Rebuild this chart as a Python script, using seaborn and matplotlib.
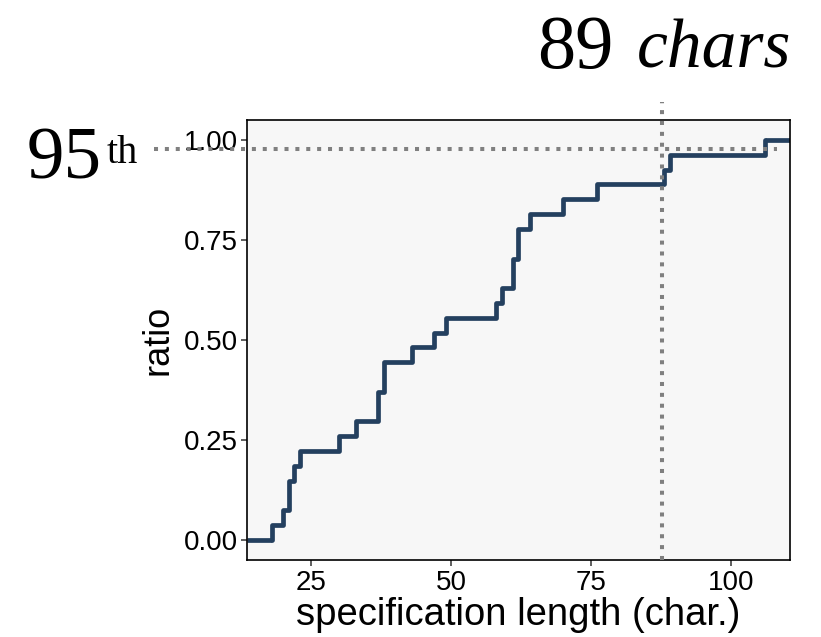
import matplotlib
matplotlib.use("Agg")
import matplotlib.pyplot as plt
import seaborn as sns

# specification lengths (characters)
spec_lengths = [18, 20, 21, 21, 22, 23, 30, 33, 37, 37, 38, 38, 43, 47, 49,
                58, 59, 61, 61, 62, 62, 64, 70, 76, 88, 89, 106]
x_ticks = [25, 50, 75, 100]
y_ticks = [0.0, 0.25, 0.5, 0.75, 1.0]
y_tick_labels = ['0.00', '0.25', '0.50', '0.75', '1.00']
pct_ratio = 0.977     # horizontal reference line (95th)
pct_chars = 87.6      # vertical reference line (89 chars)

line_color = '#24405f'
ref_color = '#808080'

sns.set_theme(style='ticks')
plt.rcParams['font.family'] = ['Liberation Sans', 'DejaVu Sans']
plt.rcParams['text.color'] = 'black'
plt.rcParams['axes.labelcolor'] = 'black'

W, H = 821, 637
fig = plt.figure(figsize=(W / 100, H / 100), dpi=100)
ax = fig.add_axes([247.3 / W, 1 - 560 / H, 542.2 / W, 440 / H])
ax.set_facecolor('#f7f7f7')

sns.ecdfplot(x=spec_lengths, ax=ax, color=line_color, linewidth=3.4)
xl = ax.get_xlim()
# extend the first and last steps to the panel edges, like ggplot's stat_ecdf
ax.hlines(0.0, xl[0], min(spec_lengths), color=line_color, linewidth=3.4)
ax.hlines(1.0, max(spec_lengths), xl[1], color=line_color, linewidth=3.4)
ax.set_xlim(xl)
ax.set_ylim(-0.05, 1.05)

dots = dict(color=ref_color, linewidth=2.9, linestyle=(0, (1, 1.7)),
            dash_capstyle='butt', clip_on=False, zorder=5)
ax.plot([-0.172, 0.977], [pct_ratio, pct_ratio], transform=ax.get_yaxis_transform(), **dots)
ax.plot([pct_chars, pct_chars], [0, 1.041], transform=ax.get_xaxis_transform(), **dots)

ax.set_xticks(x_ticks)
ax.set_yticks(y_ticks)
ax.set_yticklabels(y_tick_labels)
ax.tick_params(axis='both', labelsize=20, length=4, width=1.1, color='#333333',
               labelcolor='black', pad=3)
for sp in ax.spines.values():
    sp.set_color('black')
    sp.set_linewidth(1.2)

ax.set_xlabel('specification length (char.)', fontsize=27.5, labelpad=1)
ax.set_ylabel('ratio', fontsize=26, labelpad=6)

serif = ['Liberation Serif', 'DejaVu Serif']
fig.text(102 / W, 1 - 178 / H, '95', ha='right', va='baseline', fontsize=54, family=serif)
fig.text(107 / W, 1 - 163 / H, 'th', ha='left', va='baseline', fontsize=29, family=serif)
fig.text(537 / W, 1 - 68 / H, '89', ha='left', va='baseline', fontsize=55, family=serif)
fig.text(637 / W, 1 - 68 / H, 'chars', ha='left', va='baseline', fontsize=50,
         family=serif, style='italic')

fig.savefig('out.png', dpi=100)
